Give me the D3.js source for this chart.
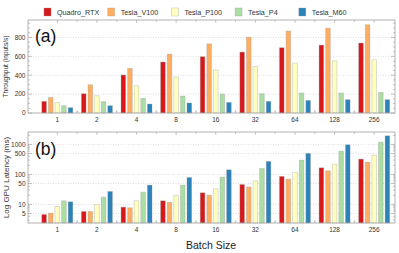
<!DOCTYPE html>
<html>
<head>
<meta charset="utf-8">
<script src="https://cdn.jsdelivr.net/npm/d3@7"></script>
<style>
  body { margin: 0; background: #fff; }
  svg { display: block; font-family: "Liberation Sans", Arial, sans-serif; }
</style>
</head>
<body>
<svg id="chart"></svg>
<script>
//------ Données ------
const batchSizes = ["1", "2", "4", "8", "16", "32", "64", "128", "256"]
const gpus = ["Quadro_RTX", "Tesla_V100", "Tesla_P100", "Tesla_P4", "Tesla_M60"]
const colors = ["#d7191c", "#fdae61", "#ffffbf", "#abdda4", "#2b83ba"]

// debit (inputs/s)
const throughputRTX  = [123, 204, 402, 540, 596, 645, 691, 719, 741]
const throughputV100 = [165, 299, 472, 624, 733, 804, 868, 899, 934]
const throughputP100 = [109, 183, 289, 381, 455, 493, 529, 553, 564]
const throughputP4   = [77, 120, 155, 180, 201, 204, 212, 212, 218]
const throughputM60  = [56, 77, 95, 106, 112, 123, 133, 141, 141]

// latence (ms)
const latencyRTX  = [4.6, 5.8, 8.1, 13.2, 24.4, 46, 86, 166, 324]
const latencyV100 = [5.1, 5.8, 7.7, 11.8, 20.4, 38, 70, 132, 257]
const latencyP100 = [8.6, 10, 13.2, 20, 33, 61, 117, 220, 440]
const latencyP4   = [13.2, 17.5, 25.7, 44, 81, 158, 300, 598, 1194]
const latencyM60  = [12.2, 27, 44, 79, 142, 271, 501, 970, 1936]

const throughputTicks = [0, 200, 400, 600, 800]
const latencyTicks = [5, 10, 50, 100, 500, 1000]

const throughput = [throughputRTX, throughputV100, throughputP100, throughputP4, throughputM60]
const latency = [latencyRTX, latencyV100, latencyP100, latencyP4, latencyM60]

//------ Cadre ------
const width = 399, height = 253
const left = 28, right = 395
const frameColor = "#a0a0a0", textColor = "#333"

const svg = d3.select("#chart").attr("width", width).attr("height", height)

const x = d3.scaleBand().domain(batchSizes).range([37.5, 394]).paddingInner(0)
const x1 = d3.scaleBand().domain(gpus).range([-15.5, 15.5]).paddingInner(0.3)

const yTop = d3.scaleLinear().domain([0, 985]).range([113, 20])
const yBot = d3.scaleLog().domain([2.4, 2600]).range([223, 132])

// dessine un panneau
function panel(y, series, ticks, minorTicks, yTitle, titleSize, tag, tagY, xLabelY) {
    const [bottom, top] = y.range()
    const g = svg.append("g")

    // grille pointillée
    g.selectAll("line.grid").data(ticks.filter(t => y(t) < bottom - 1))
        .enter().append("line")
        .attr("x1", left).attr("x2", right)
        .attr("y1", d => y(d)).attr("y2", d => y(d))
        .attr("stroke", "#c8c8c8").attr("stroke-width", 0.6)
        .attr("stroke-dasharray", "1,1.5")

    // barres
    gpus.forEach((gpu, i) => {
        g.selectAll("rect.s" + i).data(series[i])
            .enter().append("rect")
            .attr("x", (d, j) => x(batchSizes[j]) + x.bandwidth() / 2 + x1(gpu))
            .attr("width", x1.bandwidth())
            .attr("y", d => y(d))
            .attr("height", d => bottom - y(d))
            .attr("fill", colors[i])
            .attr("stroke", "#999").attr("stroke-opacity", 0.45)
            .attr("stroke-width", 0.7)
    })

    // cadre
    g.append("rect").attr("x", left).attr("y", top)
        .attr("width", right - left).attr("height", bottom - top)
        .attr("fill", "none").attr("stroke", frameColor).attr("stroke-width", 0.8)

    // graduations gauche / droite
    const tickG = g.append("g").attr("stroke", frameColor).attr("stroke-width", 0.6)
    ticks.forEach(t => {
        tickG.append("line").attr("x1", left).attr("x2", left + 4).attr("y1", y(t)).attr("y2", y(t))
        tickG.append("line").attr("x1", right).attr("x2", right - 4).attr("y1", y(t)).attr("y2", y(t))
    })
    minorTicks.forEach(t => {
        tickG.append("line").attr("x1", left).attr("x2", left + 2).attr("y1", y(t)).attr("y2", y(t))
        tickG.append("line").attr("x1", right).attr("x2", right - 2).attr("y1", y(t)).attr("y2", y(t))
    })
    // graduations haut / bas
    batchSizes.forEach((b, j) => {
        const cx = x(b) + x.bandwidth() / 2
        tickG.append("line").attr("x1", cx).attr("x2", cx).attr("y1", top).attr("y2", top + 3)
        const bx = x(b) + x.bandwidth()
        if (j < batchSizes.length - 1) {
            tickG.append("line").attr("x1", bx).attr("x2", bx).attr("y1", top).attr("y2", top + 2)
            tickG.append("line").attr("x1", bx).attr("x2", bx).attr("y1", bottom).attr("y2", bottom - 2.5)
                .attr("stroke-width", 1.5).attr("stroke", "#c0c0c0")
        }
    })

    // étiquettes
    g.selectAll("text.yl").data(ticks).enter().append("text")
        .attr("x", left - 2.5).attr("y", d => y(d)).attr("dy", "0.35em")
        .attr("text-anchor", "end").attr("font-size", 6.5).attr("fill", textColor)
        .text(d => d)
    g.selectAll("text.xl").data(batchSizes).enter().append("text")
        .attr("x", d => x(d) + x.bandwidth() / 2).attr("y", xLabelY)
        .attr("text-anchor", "middle").attr("font-size", 6.5).attr("fill", textColor)
        .text(d => d)

    g.append("text")
        .attr("transform", `translate(${titleSize > 7 ? 9 : 8},${(top + bottom) / 2}) rotate(-90)`)
        .attr("text-anchor", "middle").attr("font-size", titleSize).attr("fill", textColor)
        .text(yTitle)

    g.append("text").attr("x", 35).attr("y", tagY)
        .attr("font-size", 17.5).attr("fill", "#111").text(tag)
}

const minorLin = d3.range(50, 985, 50).filter(t => t % 200 != 0)
const minorLog = []
;[1, 10, 100, 1000].forEach(p => d3.range(1, 10).forEach(k => {
    const v = p * k
    if (v >= 2.4 && v <= 2600 && !latencyTicks.includes(v)) minorLog.push(v)
}))

panel(yTop, throughput, throughputTicks, minorLin, "Throughput (inputs/s)", 6.5, "(a)", 42, 122)
panel(yBot, latency, latencyTicks, minorLog, "Log GPU Latency (ms)", 8, "(b)", 155, 232)

// titre axe x
svg.append("text").attr("x", 211).attr("y", 249)
    .attr("text-anchor", "middle").attr("font-size", 10.5).attr("fill", "#222")
    .text("Batch Size")

//------ Légende ------
const legend = svg.append("g")
gpus.forEach((gpu, i) => {
    const lx = 44 + i * 63.7
    legend.append("rect").attr("x", lx).attr("y", 8).attr("width", 7).attr("height", 8)
        .attr("fill", colors[i]).attr("stroke", "#999").attr("stroke-opacity", 0.45).attr("stroke-width", 0.7)
    legend.append("text").attr("x", lx + 13).attr("y", 12).attr("dy", "0.35em")
        .attr("font-size", 7.2).attr("fill", textColor).text(gpu)
})
</script>
</body>
</html>
